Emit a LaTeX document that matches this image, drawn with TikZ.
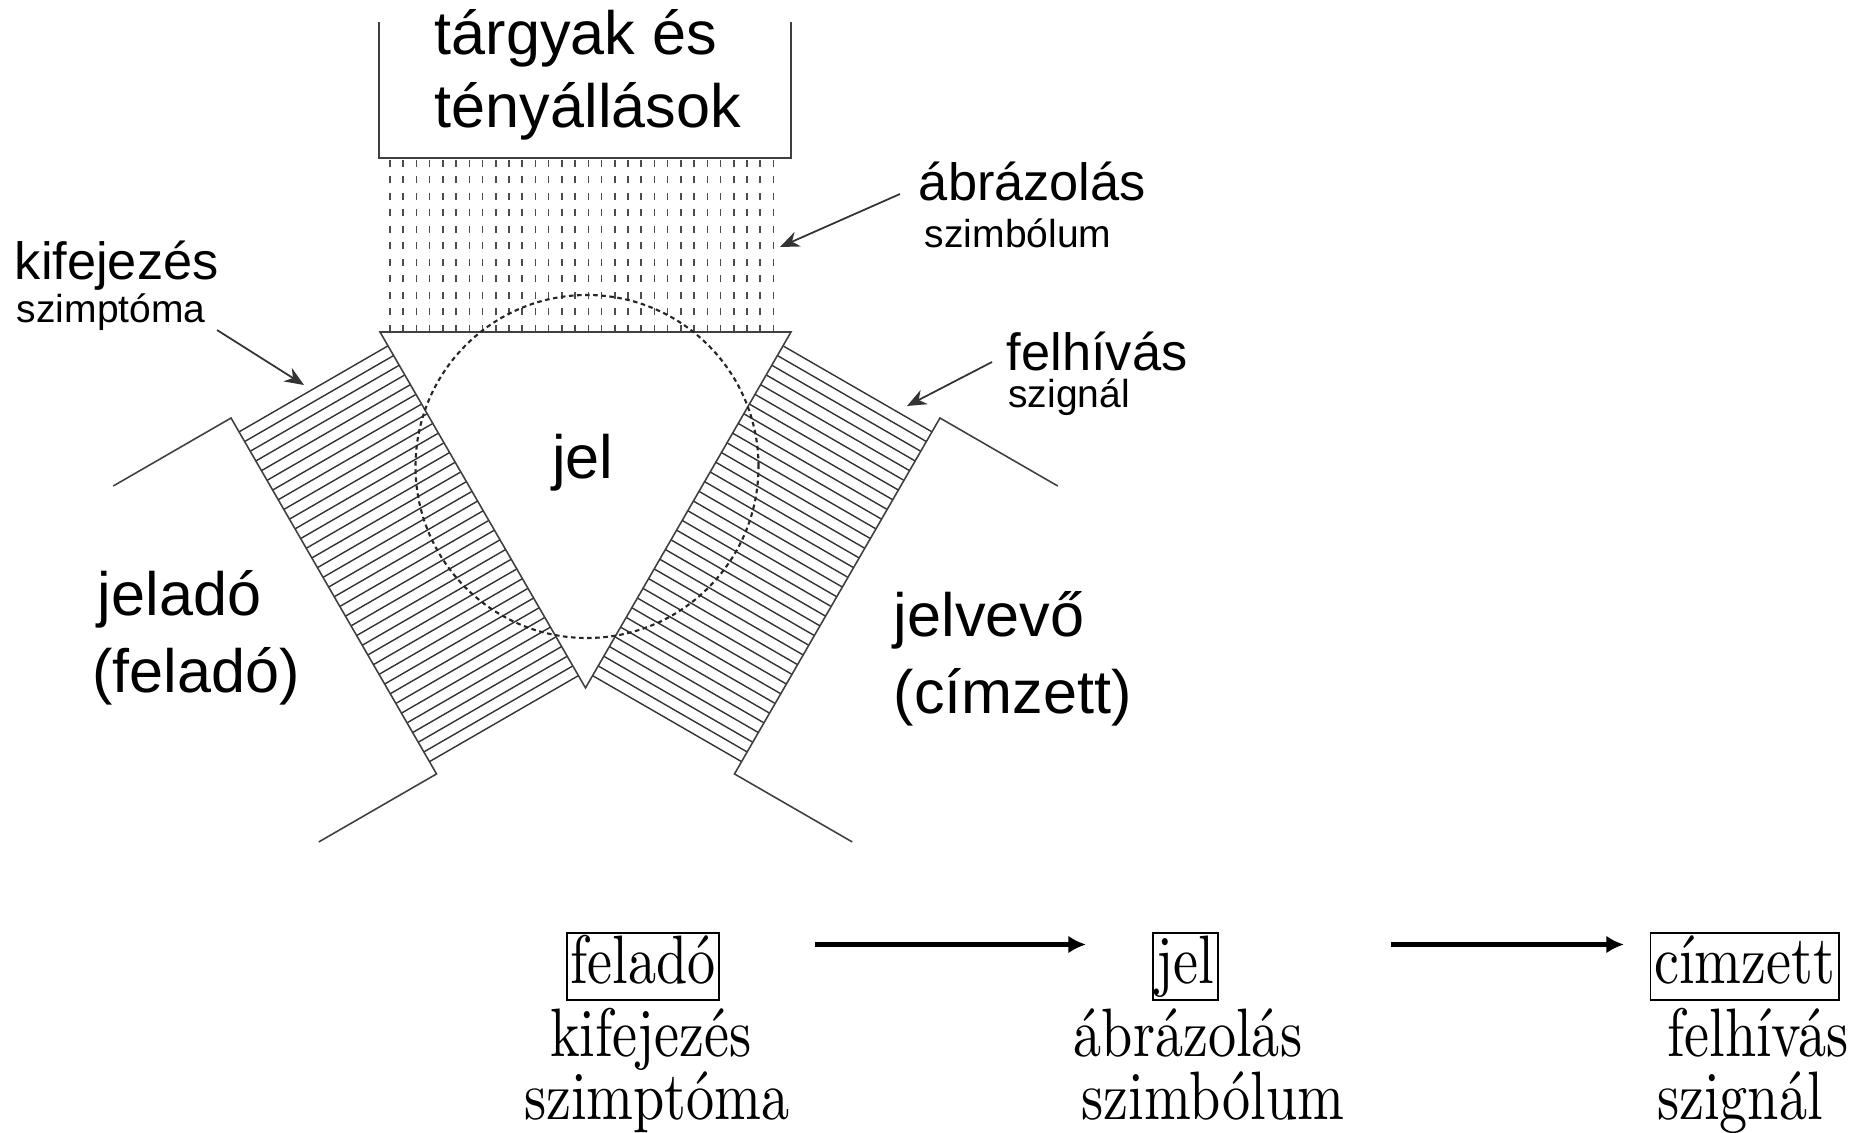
\documentclass[tikz,border=0pt]{standalone}
\usepackage{fontspec}
\newfontfamily\arialfont{Liberation Sans}
\newfontfamily\serifword{lmroman10-regular.otf}
\newcommand{\narrowword}[1]{\scalebox{0.82}[1]{#1}}
\usetikzlibrary{calc,arrows.meta}

\begin{document}
\begin{tikzpicture}[line width=0.5pt,
	thinline/.style = {draw=black!75, line width=0.45pt},
	hatchline/.style = {draw=black!80, line width=0.4pt},
	tickline/.style = {draw=black!70, line width=0.45pt, dash pattern=on 0.07cm off 0.095cm},
	ringline/.style = {draw=black!85, line width=0.6pt, dash pattern=on 1.3pt off 1pt},
	pointer/.style = {draw=black!80, line width=0.5pt, -{Stealth[length=5.5pt,width=4.5pt]}},
	flow/.style = {draw=black, line width=1.2pt, -{Latex[length=5pt,width=5pt]}},
	big label/.style = {font=\arialfont\fontsize{17.4}{20}\selectfont, inner sep=0, anchor=base west},
	mid label/.style = {font=\arialfont\fontsize{14.9}{17}\selectfont, inner sep=0, anchor=base west},
	small label/.style = {font=\arialfont\fontsize{11.1}{13}\selectfont, inner sep=0, anchor=base west},
	word/.style = {font=\serifword\fontsize{19.5}{21}\selectfont, inner sep=0, anchor=base},
	word box/.style = {draw, line width=0.5pt, font=\serifword\fontsize{19.5}{21}\selectfont, inner xsep=1pt, inner ysep=0.8pt, text height=13.6pt, text depth=4pt}]

	\useasboundingbox (0,0) rectangle (18.63,-11.32);

	% objects box
	\draw[thinline] (3.79,-0.22) -- (3.79,-1.58) -- (7.91,-1.58) -- (7.91,-0.22);
	\node[big label] at (4.34,-0.55) (targy1) {tárgyak és};
	\node[big label] at (4.34,-1.28) (targy2) {tényállások};

	% dashed field under the box
	\foreach \i in {0,...,29}
		\draw[tickline] (3.90+0.1322*\i,-3.32) -- (3.90+0.1322*\i,-1.58);

	% hatched bands with their brackets
	\foreach \s in {1,-1} {
		\begin{scope}[shift={(5.855,0)}, xscale=\s]
		\begin{scope}[shift={(-2.055,-3.32)}, rotate=-60]
			\foreach \k in {0,...,34}
				\draw[hatchline] (0.16+0.112*\k,0) -- (0.16+0.112*\k,-1.72);
			\draw[thinline] (0,-3.08) -- (0,-1.72) -- (4.11,-1.72) -- (4.11,-3.08);
		\end{scope}
		\end{scope}
	}

	% sign triangle and circle
	\coordinate (tl) at (3.80,-3.32);
	\coordinate (tr) at (7.91,-3.32);
	\coordinate (tb) at (5.855,-6.879);
	\draw[thinline] (tl) -- (tr) -- (tb) -- cycle;
	\draw[ringline] (5.87,-4.665) circle (1.715);
	\node[big label, anchor=base] at (5.83,-4.78) (jelmid) {jel};

	\node[big label] at (0.97,-6.15) (jelado) {jeladó};
	\node[big label] at (0.915,-6.92) (felado2) {(feladó)};
	\node[big label] at (8.93,-6.36) (jelvevo) {jelvevő};
	\node[big label] at (8.93,-7.13) (cimzett2) {(címzett)};

	% function labels
	\node[mid label] at (0.14,-2.80) (kif) {kifejezés};
	\node[small label] at (0.16,-3.23) (szimpt) {szimptóma};
	\node[mid label] at (9.18,-2.01) (abr) {ábrázolás};
	\node[small label] at (9.24,-2.48) (szimb) {szimbólum};
	\node[mid label] at (10.06,-3.70) (felh) {felhívás};
	\node[small label] at (10.075,-4.07) (szign) {szignál};

	\coordinate (kif from) at (2.17,-3.30);
	\coordinate (kif to) at (3.04,-3.85);
	\coordinate (abr from) at (9.00,-1.94);
	\coordinate (abr to) at (7.80,-2.47);
	\coordinate (fel from) at (9.92,-3.62);
	\coordinate (fel to) at (9.07,-4.06);
	\draw[pointer] (kif from) -- (kif to);
	\draw[pointer] (abr from) -- (abr to);
	\draw[pointer] (fel from) -- (fel to);

	% bottom row
	\node[word box] at (6.43,-9.665) (b1) {\narrowword{feladó}};
	\node[word box] at (11.856,-9.665) (b2) {\narrowword{jel}};
	\node[word box] at (17.446,-9.665) (b3) {\narrowword{címzett}};
	\coordinate (f1) at (8.15,-9.445);
	\coordinate (f2) at (10.86,-9.445);
	\coordinate (f3) at (13.91,-9.445);
	\coordinate (f4) at (16.24,-9.445);
	\draw[flow] (f1) -- (f2);
	\draw[flow] (f3) -- (f4);

	\node[word] at (6.51,-10.56) (w1) {\narrowword{kifejezés}};
	\node[word] at (6.57,-11.19) (w2) {\narrowword{szimptóma}};
	\node[word] at (11.88,-10.56) (w3) {\narrowword{ábrázolás}};
	\node[word] at (12.13,-11.19) (w4) {\narrowword{szimbólum}};
	\node[word] at (17.58,-10.56) (w5) {\narrowword{felhívás}};
	\node[word] at (17.40,-11.19) (w6) {\narrowword{szignál}};
\end{tikzpicture}
\end{document}
